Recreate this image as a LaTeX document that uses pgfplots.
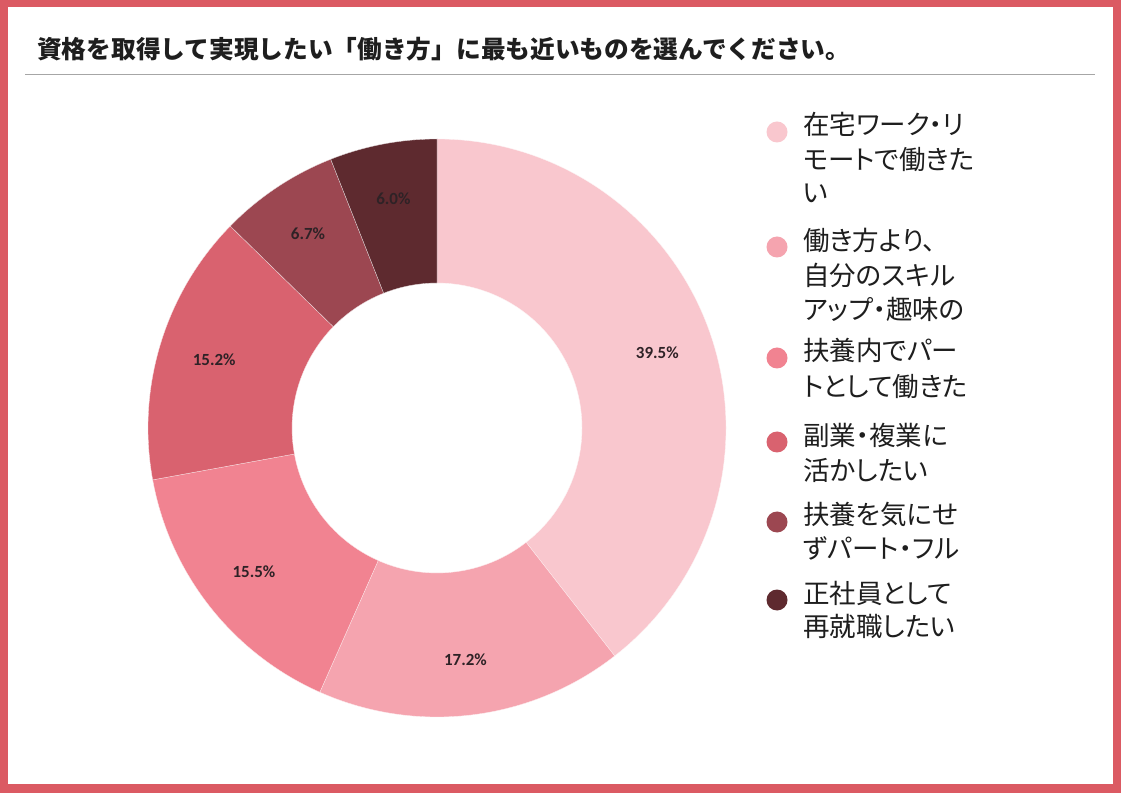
\documentclass[border=0pt]{standalone}
\usepackage{fontspec}
\setmainfont{Noto Sans CJK JP}
\newfontfamily\legfont[RawFeature=+palt]{Noto Sans CJK JP}
\newfontfamily\pctfont{Carlito}
\usepackage{pgfplots}
\pgfplotsset{compat=1.18}
\usepackage{pgfplotstable}

\definecolor{framered}{HTML}{DB5A63}
\definecolor{c1}{HTML}{F9C7CE}
\definecolor{c2}{HTML}{F5A4AF}
\definecolor{c3}{HTML}{F18391}
\definecolor{c4}{HTML}{D9626F}
\definecolor{c5}{HTML}{9C4751}
\definecolor{c6}{HTML}{5E2A2F}
\definecolor{rulegray}{HTML}{A6A6A6}
\definecolor{txt}{HTML}{1E1E1E}
\definecolor{pcttxt}{HTML}{2E2226}

% share of each answer, clockwise from 12 o'clock
\pgfplotstableread{
value col
39.5  c1
17.2  c2
15.5  c3
15.2  c4
6.7   c5
6.0   c6
}\donut

\tikzset{
  pct/.style={font=\pctfont\bfseries\fontsize{17}{19}\selectfont, text=pcttxt},
  leg/.style={anchor=west, inner sep=0pt, text height=0.88em, text depth=0.12em,
    font=\legfont\fontsize{26.5}{30}\selectfont, text=txt},
}

% centre and radii in pixel units (1 unit = 1pt)
\def\cx{437}\def\cy{365}
\def\Ro{289}\def\Ri{145}\def\Rl{233}

\pgfplotstablegetrowsof{\donut}
\pgfmathtruncatemacro\last{\pgfplotsretval-1}
\def\total{0}
\pgfplotsforeachungrouped \i in {0,...,\last}{%
  \pgfplotstablegetelem{\i}{value}\of\donut
  \pgfmathsetmacro\total{\total+\pgfplotsretval}}

\newcommand\legline[2]{\node[leg] at (axis cs:803,{793-#1}) {#2};}
\newcommand\legdot[2]{\fill[#1] (axis cs:777,{793-#2}) circle[radius=10.5pt];}

\begin{document}
\begin{tikzpicture}
\begin{axis}[
    width=1121pt, height=793pt,
    scale only axis,
    xmin=0, xmax=1121,
    ymin=0, ymax=793,
    hide axis,
    clip=false,
]
% frame
\fill[framered] (axis cs:0,0) rectangle (axis cs:1121,793);
\fill[white] (axis cs:8,9) rectangle (axis cs:1113,786);

% title
\node[anchor=west, inner sep=0pt, text=txt,
      font=\bfseries\fontsize{24.7}{28}\selectfont] at (axis cs:37,744)
  {資格を取得して実現したい「働き方」に最も近いものを選んでください。};
\draw[rulegray, line width=1pt] (axis cs:25,718) -- (axis cs:1095,718);

% donut slices
\def\angA{90}
\pgfplotsforeachungrouped \i in {0,...,\last}{%
  \pgfplotstablegetelem{\i}{value}\of\donut \let\val\pgfplotsretval
  \pgfplotstablegetelem{\i}{col}\of\donut \let\col\pgfplotsretval
  \pgfmathsetmacro\angB{\angA-360*\val/\total}
  \pgfmathsetmacro\angM{(\angA+\angB)/2}
  \pgfmathsetmacro\xa{\cx+\Ro*cos(\angA)}
  \pgfmathsetmacro\ya{\cy+\Ro*sin(\angA)}
  \pgfmathsetmacro\xb{\cx+\Ri*cos(\angB)}
  \pgfmathsetmacro\yb{\cy+\Ri*sin(\angB)}
  \pgfmathsetmacro\xm{\cx+\Rl*cos(\angM)}
  \pgfmathsetmacro\ym{\cy+\Rl*sin(\angM)}
  \edef\temp{%
    \noexpand\fill[\col, draw=white!85!\col, line width=0.3pt] (axis cs:\xa,\ya)
      arc[start angle=\angA, end angle=\angB, radius=\Ro pt]
      -- (axis cs:\xb,\yb)
      arc[start angle=\angB, end angle=\angA, radius=\Ri pt] -- cycle;
    \noexpand\node[pct] at (axis cs:\xm,\ym) {\val\noexpand\%};}
  \temp
  \let\angA\angB
}

% legend
\legdot{c1}{132}
\legline{131}{在宅ワーク・リ}
\legline{166}{モートで働きた}
\legline{199}{い}
\legdot{c2}{247}
\legline{247}{働き方より、}
\legline{282}{自分のスキル}
\legline{316}{アップ・趣味の}
\legdot{c3}{358}
\legline{357}{扶養内でパー}
\legline{393}{トとして働きた}
\legdot{c4}{442}
\legline{442}{副業・複業に}
\legline{477}{活かしたい}
\legdot{c5}{522}
\legline{521}{扶養を気にせ}
\legline{555}{ずパート・フル}
\legdot{c6}{600}
\legline{600}{正社員として}
\legline{633}{再就職したい}
\end{axis}
\end{tikzpicture}
\end{document}
